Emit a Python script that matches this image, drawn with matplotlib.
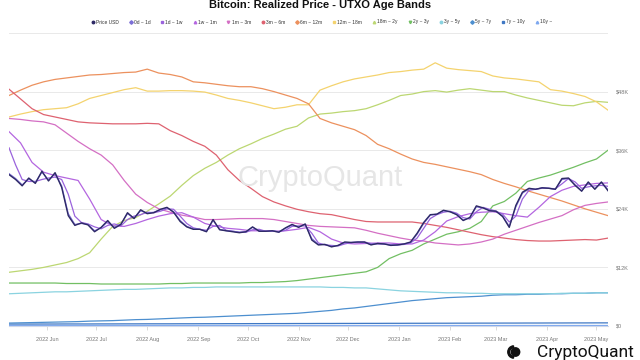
import matplotlib
matplotlib.use("Agg")
import matplotlib.pyplot as plt
from matplotlib.lines import Line2D
from matplotlib.patches import Wedge, Circle
import pandas as pd

plt.rcParams['font.family'] = ['Liberation Sans', 'DejaVu Sans']

# ---------------- data (values in thousands USD) ----------------
fast_start = "2022-05-09"   # 4-day sampling
slow_start = "2022-05-09"   # weekly sampling

price_usd = [31.0, 30.0, 28.7, 30.3, 29.2, 31.7, 29.7, 31.4, 28.4, 22.6,
             20.6, 21.1, 20.7, 19.3, 20.2, 21.6, 20.0, 20.8, 23.2, 22.0,
             23.8, 23.0, 23.2, 23.9, 24.3, 23.3, 21.4, 20.3, 19.8, 19.8,
             19.3, 21.8, 19.7, 19.5, 19.3, 19.1, 19.3, 20.3, 19.4, 19.4,
             19.5, 19.2, 20.1, 20.8, 20.2, 20.9, 17.6, 16.6, 16.7, 16.2,
             16.5, 17.2, 17.1, 17.2, 17.2, 16.6, 16.9, 16.8, 16.5, 16.6,
             16.8, 17.2, 19.0, 21.2, 22.8, 22.9, 23.7, 23.4, 22.8, 21.6,
             22.2, 24.6, 24.2, 23.6, 23.5, 22.4, 20.2, 24.7, 27.4, 28.2,
             28.0, 28.3, 28.2, 28.0, 30.2, 30.3, 28.8, 27.6, 29.5, 28.0,
             29.5, 27.7]

band_0d_1d = [31.2, 30.2, 28.9, 30.1, 29.4, 31.5, 29.9, 31.2, 28.7, 23.0,
              20.8, 21.0, 20.8, 19.5, 20.1, 21.4, 20.2, 20.9, 23.0, 22.1,
              23.6, 23.1, 23.3, 23.8, 24.2, 23.4, 21.6, 20.4, 19.9, 19.8,
              19.4, 21.6, 19.8, 19.5, 19.4, 19.2, 19.3, 20.2, 19.5, 19.4,
              19.5, 19.3, 20.0, 20.7, 20.3, 20.8, 17.9, 16.7, 16.7, 16.3,
              16.5, 17.1, 17.1, 17.2, 17.1, 16.7, 16.9, 16.8, 16.6, 16.6,
              16.8, 17.1, 18.8, 21.0, 22.7, 22.9, 23.6, 23.4, 22.9, 21.7,
              22.2, 24.4, 24.2, 23.7, 23.5, 22.5, 20.4, 24.4, 27.2, 28.1,
              28.0, 28.3, 28.2, 28.0, 30.0, 30.2, 28.9, 27.7, 29.3, 28.1,
              29.4, 27.9]

band_1d_1w = [36.5, 33.0, 30.0, 29.6, 29.6, 30.0, 30.3, 30.5, 30.0, 27.0,
              22.5, 21.2, 20.9, 20.3, 19.9, 20.6, 20.9, 20.5, 21.8, 22.5,
              22.8, 23.3, 23.2, 23.5, 24.0, 23.9, 22.5, 21.0, 20.1, 19.8,
              19.6, 20.4, 20.6, 19.6, 19.4, 19.2, 19.2, 19.7, 19.8, 19.4,
              19.4, 19.3, 19.6, 20.4, 20.5, 20.5, 19.0, 17.0, 16.6, 16.5,
              16.4, 16.8, 17.1, 17.1, 17.2, 16.9, 16.8, 16.8, 16.6, 16.6,
              16.7, 17.0, 18.0, 20.0, 22.0, 22.8, 23.3, 23.5, 23.1, 22.2,
              21.9, 23.4, 24.3, 23.9, 23.5, 22.9, 21.3, 22.5, 26.0, 27.8,
              28.0, 28.2, 28.2, 28.1, 29.1, 30.2, 29.5, 28.2, 28.5, 28.7,
              28.8, 28.6]

band_1w_1m = [39.8, 37.5, 33.5, 31.5, 30.8, 30.3, 29.8, 26.0, 21.8, 20.5,
              20.4, 21.0, 21.8, 22.5, 23.0, 23.2, 22.3, 21.0, 20.4, 20.0,
              19.8, 19.5, 19.5, 19.4, 19.5, 19.8, 20.2, 19.3, 17.8, 17.0,
              16.8, 16.9, 17.0, 17.0, 16.8, 16.8, 17.6, 19.3, 21.5, 22.4,
              23.0, 23.3, 23.4, 23.0, 22.6, 22.3, 24.3, 26.5, 27.8, 28.6,
              28.9, 29.2, 29.3]

band_1m_3m = [42.5, 42.3, 42.0, 41.8, 41.2, 39.5, 37.8, 36.3, 35.0, 33.0,
              29.8, 27.0, 25.3, 24.0, 23.3, 22.7, 22.3, 21.8, 21.8, 21.9,
              22.0, 22.0, 22.0, 21.8, 21.4, 21.0, 20.6, 20.4, 20.3, 20.2,
              20.1, 19.6, 19.0, 18.5, 18.0, 17.6, 17.4, 17.0, 16.8, 16.6,
              16.8, 17.2, 17.8, 18.8, 19.6, 20.4, 21.2, 21.9, 22.6, 23.8,
              24.7, 25.1, 25.4]

band_3m_6m = [48.5, 46.5, 44.5, 43.3, 42.8, 42.3, 41.8, 41.6, 41.5, 41.4,
              41.4, 41.4, 41.5, 41.4, 40.0, 39.0, 37.8, 36.8, 35.0, 32.0,
              29.8, 28.2, 26.5, 25.4, 24.6, 23.9, 23.4, 23.0, 22.8, 22.3,
              21.8, 21.4, 21.3, 21.3, 21.3, 21.3, 21.0, 20.6, 20.2, 19.7,
              19.2, 18.7, 18.3, 18.0, 17.7, 17.5, 17.4, 17.4, 17.5, 17.6,
              17.7, 17.6, 18.0]

band_6m_12m = [47.2, 48.3, 49.3, 50.0, 50.5, 50.8, 51.1, 51.4, 51.5, 51.7,
               51.9, 52.0, 52.6, 51.8, 51.5, 51.0, 50.0, 49.8, 49.5, 49.2,
               49.0, 49.0, 48.6, 48.0, 47.3, 46.6, 45.5, 42.5, 41.6, 40.9,
               40.2, 39.0, 37.2, 36.3, 35.2, 34.2, 33.5, 33.1, 32.6, 32.1,
               31.6, 31.0, 30.0, 29.2, 28.5, 27.7, 27.0, 26.3, 25.6, 24.8,
               24.0, 23.3, 22.6]

band_12m_18m = [42.8, 43.4, 43.9, 44.3, 44.5, 44.7, 45.5, 46.6, 47.2, 47.8,
                48.4, 48.8, 48.1, 48.1, 48.2, 48.2, 48.1, 47.9, 47.3, 46.6,
                46.2, 45.7, 45.1, 44.5, 44.8, 45.3, 45.3, 48.3, 49.2, 50.0,
                50.6, 51.0, 51.4, 51.9, 52.1, 52.4, 52.6, 53.9, 52.8, 52.5,
                52.3, 52.1, 51.2, 50.8, 50.6, 50.3, 50.0, 48.4, 48.1, 47.6,
                47.0, 45.9, 44.2]

band_18m_2y = [11.0, 11.3, 11.6, 12.0, 12.5, 13.0, 13.8, 15.0, 17.8, 20.4,
               21.6, 22.2, 23.5, 25.0, 26.6, 28.8, 30.8, 32.3, 33.5, 35.0,
               36.3, 37.3, 38.4, 39.3, 40.3, 40.9, 42.6, 43.4, 43.6, 43.9,
               44.1, 44.5, 45.3, 46.2, 47.2, 47.5, 48.0, 48.2, 47.9, 48.3,
               48.6, 48.3, 48.0, 48.0, 47.3, 46.7, 46.2, 45.7, 45.2, 45.1,
               45.7, 46.0, 45.8]

band_2y_3y = [8.8, 8.8, 8.8, 8.8, 8.8, 8.7, 8.7, 8.7, 8.6, 8.6,
              8.6, 8.6, 8.6, 8.6, 8.7, 8.7, 8.8, 8.8, 8.8, 8.8,
              8.8, 8.9, 8.9, 9.0, 9.1, 9.3, 9.6, 9.9, 10.2, 10.5,
              10.8, 11.1, 12.0, 13.8, 14.8, 15.5, 16.8, 17.8, 18.8, 19.3,
              20.0, 21.4, 24.6, 25.5, 27.2, 29.6, 30.3, 30.9, 31.7, 32.5,
              33.4, 34.2, 36.0]

band_3y_5y = [6.6, 6.7, 6.8, 6.9, 7.0, 7.0, 7.1, 7.2, 7.3, 7.4,
              7.5, 7.5, 7.6, 7.7, 7.8, 7.8, 7.9, 7.9, 8.0, 8.0,
              8.0, 8.0, 8.0, 8.0, 8.0, 8.0, 8.0, 8.0, 7.9, 7.9,
              7.8, 7.8, 7.6, 7.4, 7.2, 7.1, 7.0, 6.9, 6.8, 6.8,
              6.7, 6.7, 6.6, 6.6, 6.6, 6.6, 6.6, 6.6, 6.7, 6.7,
              6.7, 6.8, 6.8]

band_5y_7y = [0.60, 0.65, 0.70, 0.75, 0.80, 0.85, 0.90, 1.00, 1.05, 1.10,
              1.20, 1.30, 1.35, 1.45, 1.55, 1.65, 1.75, 1.80, 1.90, 2.00,
              2.10, 2.20, 2.30, 2.40, 2.50, 2.60, 2.80, 3.00, 3.20, 3.50,
              3.70, 4.00, 4.30, 4.60, 4.90, 5.20, 5.40, 5.60, 5.80, 5.90,
              6.00, 6.10, 6.30, 6.40, 6.40, 6.50, 6.50, 6.60, 6.60, 6.70,
              6.70, 6.80, 6.80]

band_7y_10y = [0.40, 0.40, 0.40, 0.41, 0.41, 0.42, 0.42, 0.42, 0.43, 0.43,
               0.44, 0.44, 0.45, 0.45, 0.45, 0.46, 0.46, 0.47, 0.47, 0.48,
               0.48, 0.49, 0.49, 0.50, 0.50, 0.51, 0.51, 0.52, 0.52, 0.53,
               0.53, 0.54, 0.54, 0.55, 0.55, 0.56, 0.56, 0.57, 0.57, 0.58,
               0.58, 0.59, 0.59, 0.60, 0.60, 0.61, 0.61, 0.62, 0.62, 0.63,
               0.63, 0.64, 0.64]

band_10y = [0.15] * 53

series_names = ["Price USD", "0d ~ 1d", "1d ~ 1w", "1w ~ 1m", "1m ~ 3m",
                "3m ~ 6m", "6m ~ 12m", "12m ~ 18m", "18m ~ 2y", "2y ~ 3y",
                "3y ~ 5y", "5y ~ 7y", "7y ~ 10y", "10y ~"]
y_ticks = [0, 12, 24, 36, 48, 60]
y_labels = ["$0", "$12K", "$24K", "$36K", "$48K", ""]
month_ticks = pd.date_range("2022-06-01", "2023-05-01", freq="MS")

# ---------------- styling ----------------
colors = ["#2e2a66", "#7c6fd6", "#9a63dc", "#b466e0", "#d46fc4",
          "#de6270", "#ec915e", "#f4d36e", "#bcd772", "#72bf63",
          "#8ad3e0", "#4d8fcf", "#3f78c4", "#7ea8ef"]
markers = ["o", "D", "s", "^", "v", "o", "D", "s", "^", "v", "o", "D", "s", "^"]

fast_dates = pd.date_range(fast_start, periods=len(price_usd), freq="4D")
slow_dates = pd.date_range(slow_start, periods=len(band_3m_6m), freq="7D")

fig = plt.figure(figsize=(6.4, 3.6), dpi=100)
ax = fig.add_axes([9 / 640, 1 - 326 / 360, 599 / 640, (326 - 33) / 360])

fast_series = [price_usd, band_0d_1d, band_1d_1w]
slow_series = [band_1w_1m, band_1m_3m, band_3m_6m, band_6m_12m, band_12m_18m,
               band_18m_2y, band_2y_3y, band_3y_5y, band_5y_7y, band_7y_10y, band_10y]

for k in range(len(slow_series) - 1, -1, -1):
    vals = [v * 1000 for v in slow_series[k]]
    ax.plot(slow_dates, vals, color=colors[k + 3], lw=0.9, zorder=2)
for k in range(len(fast_series) - 1, -1, -1):
    vals = [v * 1000 for v in fast_series[k]]
    ax.plot(fast_dates, vals, color=colors[k], lw=0.9 if k else 1.0, zorder=3 + (3 - k))

ax.set_xlim(pd.Timestamp("2022-05-09"), pd.Timestamp("2023-05-08"))
ax.set_ylim(0, 60000)
ax.set_yticks([v * 1000 for v in y_ticks])
ax.set_yticklabels(y_labels)
ax.yaxis.tick_right()
ax.tick_params(axis="y", length=0, pad=6, labelsize=4, labelcolor="#777777")
ax.set_xticks(month_ticks)
ax.set_xticklabels([d.strftime("%Y %b") for d in month_ticks])
ax.tick_params(axis="x", length=3, width=0.5, color="#cccccc", pad=5,
               labelsize=4, labelcolor="#777777")
ax.grid(axis="y", color="#e9e9e9", lw=0.7)
ax.set_axisbelow(True)
for s in ["top", "left", "right"]:
    ax.spines[s].set_visible(False)
ax.spines["bottom"].set_color("#cfd8e8")
ax.spines["bottom"].set_linewidth(0.8)

# watermark
fig.text(0.5, 1 - 178 / 360, "CryptoQuant", fontsize=21, color="#e6e6e6",
         ha="center", va="center", zorder=0)

# title
fig.text(0.5, 1 - 5 / 360, "Bitcoin: Realized Price - UTXO Age Bands",
         fontsize=8, fontweight="bold", ha="center", va="center", color="#111111")

# legend
handles = [Line2D([], [], marker=markers[i], color=colors[i], linestyle="None",
                  markersize=1.8) for i in range(len(series_names))]
fig.legend(handles, series_names, loc="center", bbox_to_anchor=(0.503, 1 - 22 / 360),
           ncol=len(series_names), fontsize=3.5, frameon=False,
           handlelength=0.5, handletextpad=0.4, columnspacing=2.2,
           labelcolor="#333333")

# bottom-right brand logo
fig.text(634 / 640, 1 - 352 / 360, "CryptoQuant", fontsize=12.5, ha="right",
         va="center", color="#111111", family=["Roboto", "DejaVu Sans"])
ic = fig.dpi_scale_trans
cx, cy = 514 / 100, (360 - 352) / 100
fig.add_artist(Wedge((cx, cy), 0.062, 95, 265, width=0.018, color="#111111",
                     transform=ic))
fig.add_artist(Circle((cx + 0.015, cy), 0.042, color="#111111", transform=ic))

fig.savefig("out.png", dpi=100)
